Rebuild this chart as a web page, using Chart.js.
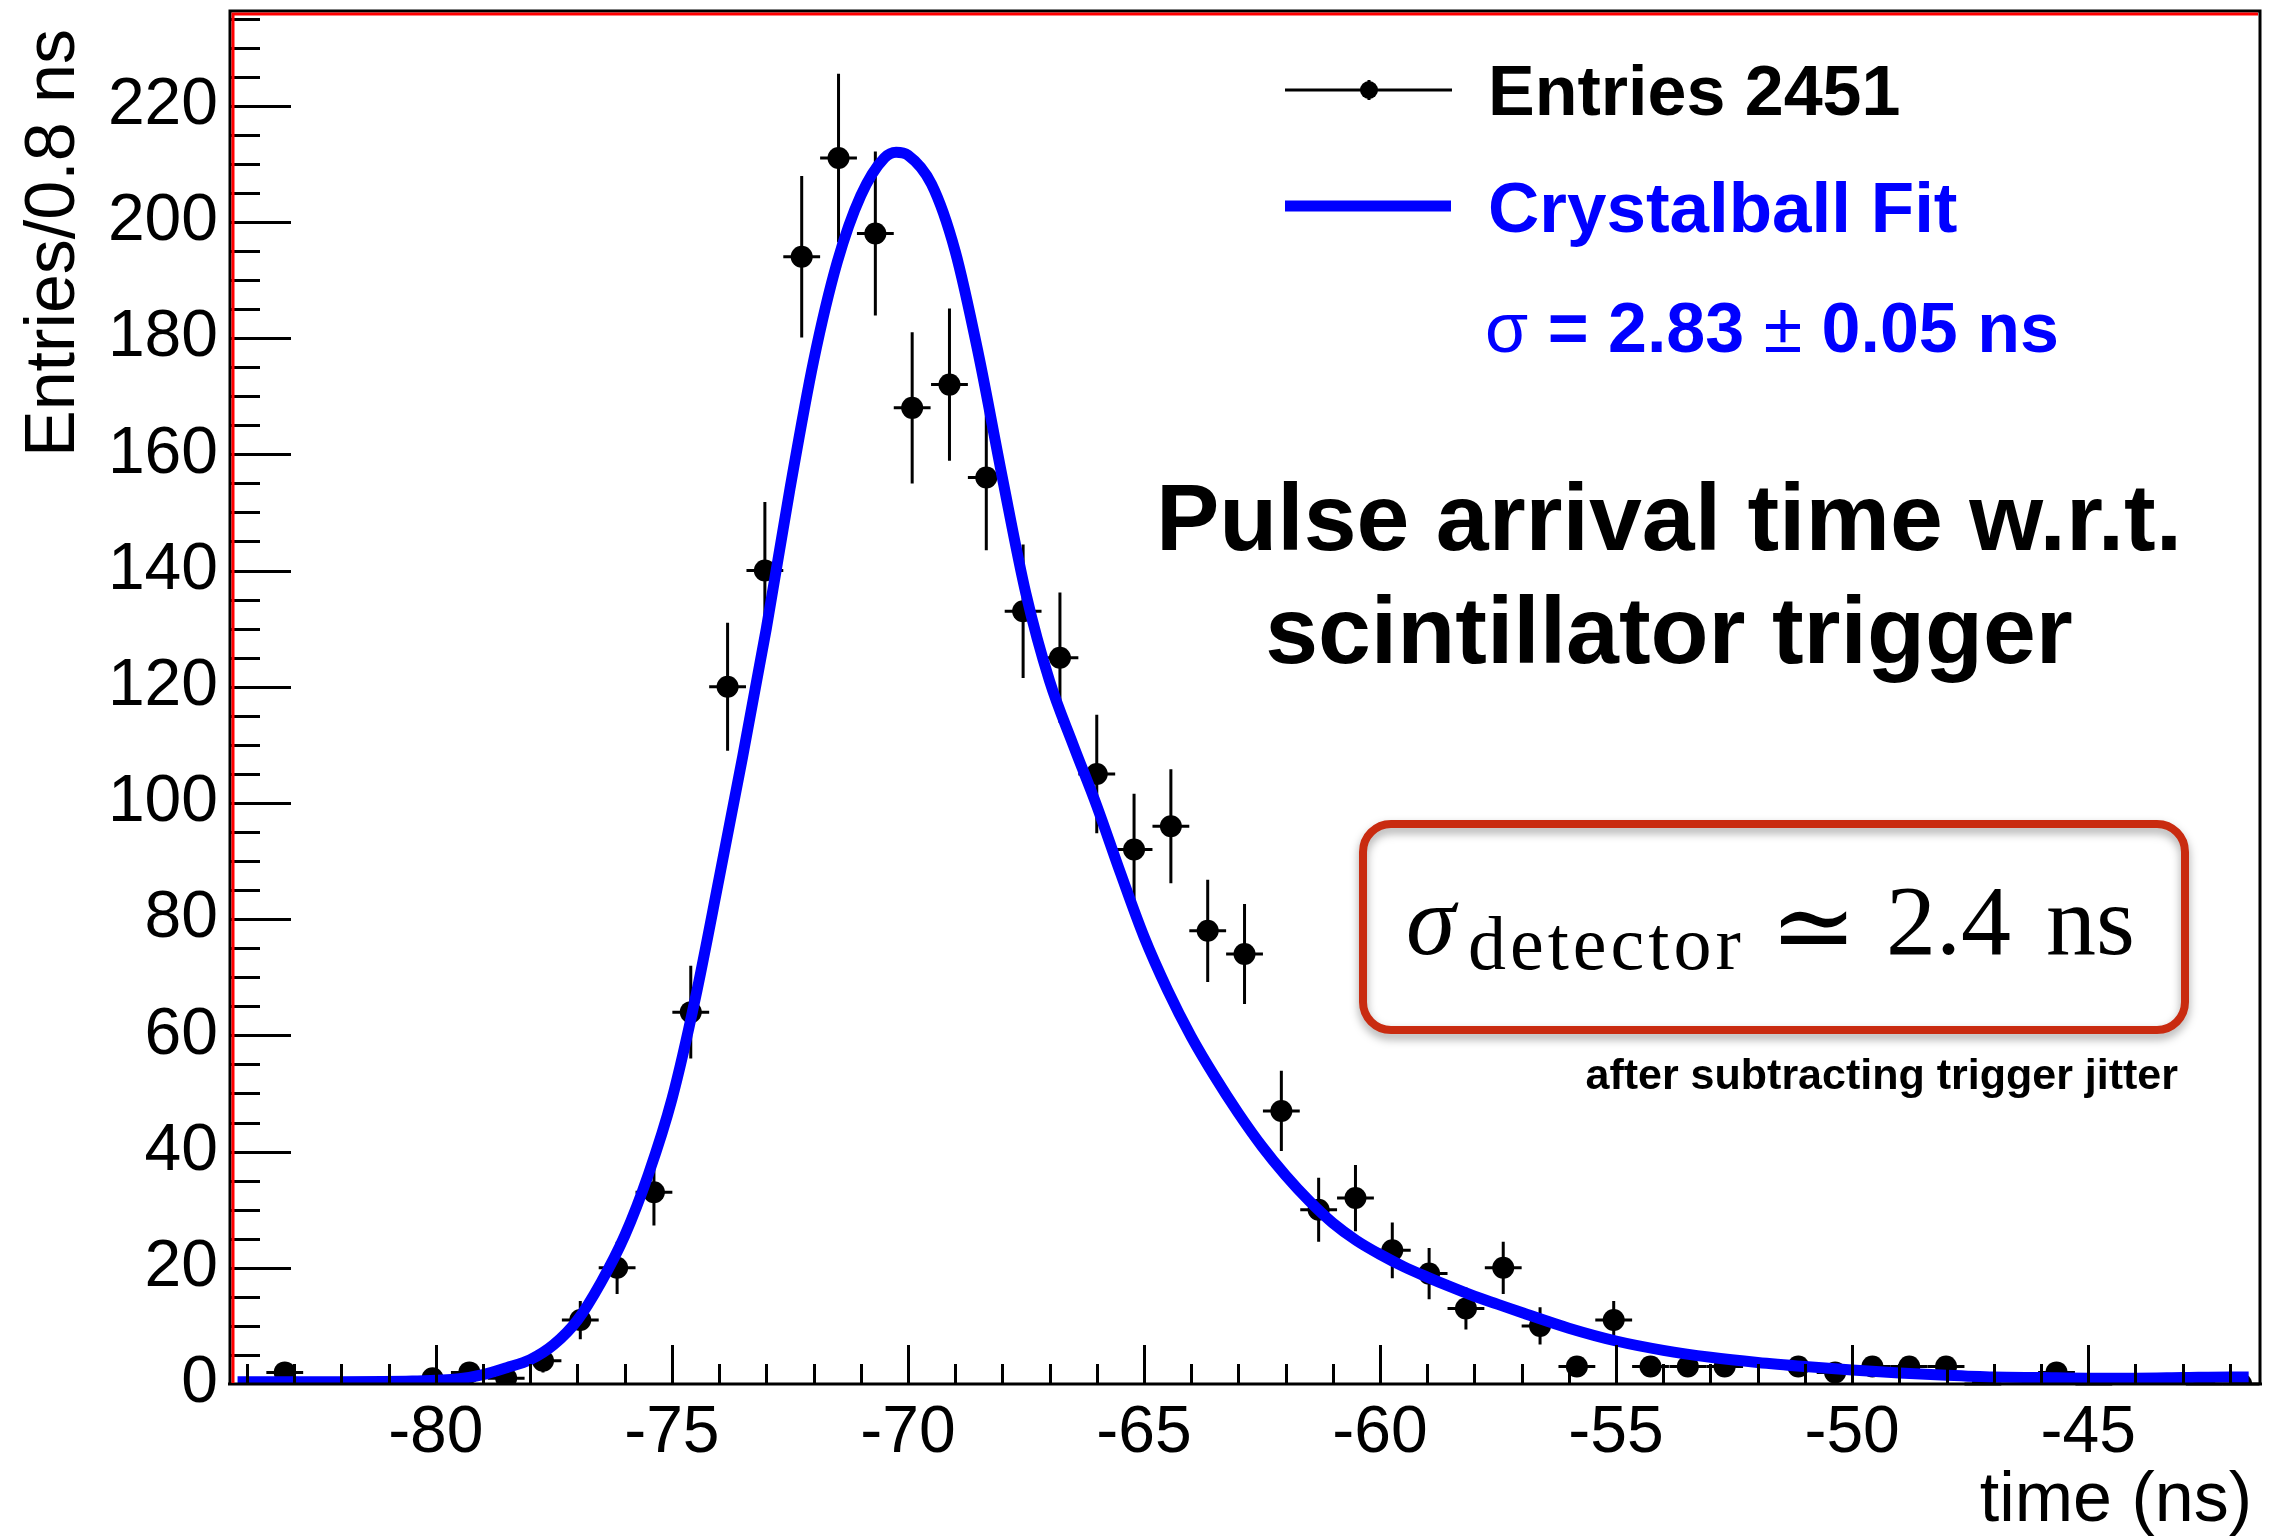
<!DOCTYPE html>
<html>
<head>
<meta charset="utf-8">
<script src="https://cdn.jsdelivr.net/npm/chart.js@4.4.1/dist/chart.umd.min.js"></script>
<style>
html,body{margin:0;padding:0;background:#fff;}
#wrap{position:relative;width:2277px;height:1537px;background:#fff;}
canvas{display:block;}
</style>
</head>
<body>
<div id="wrap"><canvas id="c" width="2277" height="1537"></canvas></div>
<script>
// ---------- data ----------
const binCenters = [-83.20,-82.42,-81.64,-80.85,-80.07,-79.29,-78.51,-77.73,-76.94,-76.16,
  -75.38,-74.60,-73.82,-73.03,-72.25,-71.47,-70.69,-69.91,-69.12,-68.34,
  -67.56,-66.78,-66.00,-65.21,-64.43,-63.65,-62.87,-62.09,-61.30,-60.52,
  -59.74,-58.96,-58.18,-57.39,-56.61,-55.83,-55.05,-54.27,-53.48,-52.70,
  -51.92,-51.14,-50.36,-49.57,-48.79,-48.01,-47.23,-46.45,-45.67,-44.88,
  -44.10,-43.32,-42.54,-41.76];
const entries = [2,null,null,null,1,2,1,4,11,20,
  33,64,120,140,194,211,198,168,172,156,
  133,125,105,92,96,78,74,47,30,32,
  23,19,13,20,10,3,11,3,3,3,
  null,3,2,3,3,3,0,null,2,0,
  null,null,0,0];
const entryErrors = [1.4,0,0,0,1,1.4,1,2,3.3,4.5,
  5.7,8,11,11.8,13.9,14.5,14.1,13,13.1,12.5,
  11.5,11.2,10.2,9.6,9.8,8.8,8.6,6.9,5.5,5.7,
  4.8,4.4,3.6,4.5,3.2,1.7,3.3,1.7,1.7,1.7,
  0,1.7,1.4,1.7,1.7,1.7,0,0,1.4,0,
  0,0,0,0];
const binHalfWidth = 0.39;

const fitTimes = [-84.2,-82,-80.5,-79.5,-79,-78.5,-78,-77.5,-77,-76.5,
  -76,-75.5,-75,-74.5,-74,-73.5,-73,-72.5,-72,-71.5,
  -71,-70.5,-70.25,-70,-69.5,-69,-68.5,-68,-67.5,-67,
  -66.5,-66,-65.5,-65,-64.5,-64,-63.5,-63,-62.5,-62,
  -61.5,-61,-60.5,-60,-59.5,-59,-58.5,-58,-57.5,-57,
  -56,-55,-54,-53,-52,-51,-50,-49,-48,-47,
  -46,-45,-44,-43,-42,-41.6];
const fitValues = [0.4,0.4,0.5,0.9,1.6,2.8,4.2,6.8,11,17.5,
  25.5,36,49,66.5,87,108,130,154,176,193,
  204.5,211,212,211.5,206.5,195,177,156,136,121,
  110,99.5,88,77,67.8,59.8,52.9,46.6,40.9,35.9,
  31.5,27.7,24.7,22.3,20.2,18.4,16.7,15.1,13.7,12.3,
  9.6,7.4,5.8,4.6,3.7,3.0,2.4,1.9,1.5,1.2,
  1.1,1.0,1.0,1.1,1.2,1.2];

const xTickValues = [-80,-75,-70,-65,-60,-55,-50,-45];
const xTickLabels = ['-80','-75','-70','-65','-60','-55','-50','-45'];
const yTickValues = [0,20,40,60,80,100,120,140,160,180,200,220];
const yTickLabels = ['0','20','40','60','80','100','120','140','160','180','200','220'];

const xTitle = 'time (ns)';
const yTitle = 'Entries/0.8 ns';
const legendLabels = ['Entries 2451','Crystalball Fit'];
const fitSigmaParts = ['\u03C3',' = 2.83 ','\u00B1',' 0.05 ns'];
const titleLines = ['Pulse arrival time w.r.t.','scintillator trigger'];
const boxParts = ['\u03C3','detector','\u2243','2.4','ns'];
const noteText = 'after subtracting trigger jitter';

// ---------- styling ----------
const SANS = '"Liberation Sans", Arial, Helvetica, sans-serif';
const SERIF = '"Liberation Serif", "DejaVu Serif", serif';
const BLUE = '#0000ff';

const pointData = [];
binCenters.forEach((t, i) => { if (entries[i] !== null) pointData.push({x: t, y: entries[i]}); });
const fitData = fitTimes.map((t, i) => ({x: t, y: fitValues[i]}));

const decor = {
  id: 'decor',
  afterDatasetDraw(chart, args) {
    if (args.index !== 1) return;
    const ctx = chart.ctx, xs = chart.scales.x, ys = chart.scales.y;
    ctx.save();
    ctx.strokeStyle = '#000';
    ctx.lineWidth = 3;
    binCenters.forEach((t, i) => {
      const v = entries[i];
      if (v === null) return;
      const e = entryErrors[i];
      const px = xs.getPixelForValue(t), py = ys.getPixelForValue(v);
      ctx.beginPath();
      ctx.moveTo(xs.getPixelForValue(t - binHalfWidth), py);
      ctx.lineTo(xs.getPixelForValue(t + binHalfWidth), py);
      if (e > 0) {
        ctx.moveTo(px, ys.getPixelForValue(v + e));
        ctx.lineTo(px, ys.getPixelForValue(Math.max(0, v - e)));
      }
      ctx.stroke();
    });
    ctx.restore();
  },
  afterDraw(chart) {
    const ctx = chart.ctx, a = chart.chartArea, xs = chart.scales.x, ys = chart.scales.y;
    ctx.save();
    // tick marks (inside)
    ctx.strokeStyle = '#000';
    ctx.lineWidth = 3;
    ctx.beginPath();
    for (let v = 5; v <= ys.max; v += 5) {
      const py = Math.round(ys.getPixelForValue(v)) + 0.5;
      const len = (v % 20 === 0) ? 61 : 30;
      ctx.moveTo(a.left, py); ctx.lineTo(a.left + len, py);
    }
    for (let v = Math.ceil(xs.min); v <= xs.max; v += 1) {
      const px = Math.round(xs.getPixelForValue(v)) + 0.5;
      const len = (v % 5 === 0) ? 39 : 20;
      ctx.moveTo(px, a.bottom); ctx.lineTo(px, a.bottom - len);
    }
    ctx.stroke();
    // frame
    ctx.lineWidth = 3;
    ctx.beginPath();
    ctx.moveTo(a.left, a.bottom); ctx.lineTo(a.left, a.top);
    ctx.lineTo(a.right, a.top); ctx.lineTo(a.right, a.bottom);
    ctx.moveTo(a.left - 2, a.bottom); ctx.lineTo(a.right + 2, a.bottom);
    ctx.stroke();
    ctx.strokeStyle = '#ff0000';
    ctx.lineWidth = 3;
    ctx.beginPath();
    ctx.moveTo(a.left + 3, a.bottom - 1); ctx.lineTo(a.left + 3, a.top + 3);
    ctx.lineTo(a.right - 2, a.top + 3);
    ctx.stroke();

    // axis titles
    ctx.fillStyle = '#000';
    ctx.font = '70px ' + SANS;
    ctx.textBaseline = 'alphabetic';
    ctx.save();
    ctx.translate(74, 29);
    ctx.rotate(-Math.PI / 2);
    ctx.textAlign = 'right';
    ctx.fillText(yTitle, 0, 0);
    ctx.restore();
    ctx.textAlign = 'right';
    ctx.fillText(xTitle, 2252, 1521);

    // legend
    ctx.textAlign = 'left';
    ctx.strokeStyle = '#000';
    ctx.lineWidth = 3;
    ctx.beginPath();
    ctx.moveTo(1285, 90); ctx.lineTo(1452, 90);
    ctx.moveTo(1369, 80); ctx.lineTo(1369, 100);
    ctx.stroke();
    ctx.beginPath(); ctx.arc(1369, 90, 9, 0, Math.PI * 2); ctx.fillStyle = '#000'; ctx.fill();
    ctx.font = 'bold 70px ' + SANS;
    ctx.fillText(legendLabels[0], 1488, 115);
    ctx.strokeStyle = BLUE;
    ctx.lineWidth = 11;
    ctx.beginPath(); ctx.moveTo(1285, 206); ctx.lineTo(1451, 206); ctx.stroke();
    ctx.fillStyle = BLUE;
    ctx.font = 'bold 71px ' + SANS;
    ctx.fillText(legendLabels[1], 1488, 232);
    let x = 1485;
    const sfonts = ['70px ' + SANS, 'bold 70px ' + SANS, '70px ' + SANS, 'bold 70px ' + SANS];
    fitSigmaParts.forEach((s, i) => {
      ctx.font = sfonts[i];
      ctx.fillText(s, x, 352);
      x += ctx.measureText(s).width;
    });

    // title
    ctx.fillStyle = '#000';
    ctx.textAlign = 'center';
    ctx.font = 'bold 95px ' + SANS;
    ctx.fillText(titleLines[0], 1669, 550);
    ctx.fillText(titleLines[1], 1669, 663);

    // red box
    ctx.save();
    ctx.shadowColor = 'rgba(0,0,0,0.35)';
    ctx.shadowBlur = 10;
    ctx.shadowOffsetY = 5;
    ctx.strokeStyle = '#c92b10';
    ctx.lineWidth = 8;
    ctx.beginPath();
    ctx.roundRect(1363, 824, 822, 206, 28);
    ctx.stroke();
    ctx.restore();
    ctx.fillStyle = '#000';
    ctx.textAlign = 'left';
    ctx.font = 'italic 100px ' + SERIF;
    ctx.fillText(boxParts[0], 1406, 954);
    ctx.font = '76px ' + SERIF;
    ctx.letterSpacing = '4px';
    ctx.fillText(boxParts[1], 1468, 969);
    ctx.letterSpacing = '0px';
    ctx.font = '104px "DejaVu Serif", "DejaVu Sans", serif';
    ctx.fillText(boxParts[2], 1770, 962);
    ctx.font = '100px ' + SERIF;
    ctx.fillText(boxParts[3], 1886, 954);
    ctx.fillText(boxParts[4], 2046, 954);

    // note
    ctx.font = 'bold 43px ' + SANS;
    ctx.textAlign = 'right';
    ctx.fillText(noteText, 2178, 1089);
    ctx.restore();
  }
};

new Chart(document.getElementById('c'), {
  data: {
    datasets: [
      {
        type: 'line', label: legendLabels[1], data: fitData, order: 0,
        borderColor: BLUE, borderWidth: 11, pointRadius: 0, fill: false,
        cubicInterpolationMode: 'monotone', borderJoinStyle: 'round'
      },
      {
        type: 'scatter', label: legendLabels[0], data: pointData, order: 1,
        pointRadius: 11, pointBackgroundColor: '#000', pointBorderWidth: 0, showLine: false
      }
    ]
  },
  options: {
    responsive: false,
    devicePixelRatio: 1,
    animation: false,
    layout: {padding: {top: 11, right: 17, left: 0, bottom: 0}},
    plugins: {legend: {display: false}, tooltip: {enabled: false}, title: {display: false}},
    scales: {
      x: {
        type: 'linear', min: -84.36, max: -41.36,
        grid: {display: false, drawTicks: false}, border: {display: false},
        afterBuildTicks: s => { s.ticks = xTickValues.map(v => ({value: v})); },
        afterFit: s => { s.height = 153; s.paddingLeft = 0; s.paddingRight = 0; s.paddingTop = 0; s.paddingBottom = 0; },
        ticks: {
          autoSkip: false, maxRotation: 0, padding: 10, color: '#000',
          font: {family: SANS, size: 66},
          callback: v => xTickLabels[xTickValues.indexOf(v)]
        }
      },
      y: {
        type: 'linear', min: 0, max: 236.3,
        grid: {display: false, drawTicks: false}, border: {display: false},
        afterBuildTicks: s => { s.ticks = yTickValues.map(v => ({value: v})); },
        afterFit: s => { s.width = 230; s.paddingTop = 0; s.paddingBottom = 0; s.paddingLeft = 0; s.paddingRight = 0; },
        ticks: {
          autoSkip: false, padding: 12, color: '#000',
          font: {family: SANS, size: 66},
          callback: v => yTickLabels[yTickValues.indexOf(v)]
        }
      }
    }
  },
  plugins: [decor]
});
</script>
</body>
</html>
